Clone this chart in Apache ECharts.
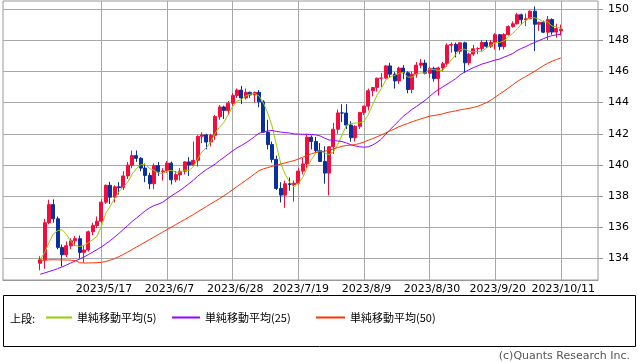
<!DOCTYPE html>
<html><head><meta charset="utf-8">
<script src="https://cdn.jsdelivr.net/npm/echarts@6/dist/echarts.min.js"></script>
<style>html,body{margin:0;padding:0;background:#fff}#c{width:638px;height:362px}</style>
</head><body><div id="c"></div>
<script>
const dates = ['2023/4/27','2023/4/28',
'2023/5/1','2023/5/2','2023/5/3','2023/5/4','2023/5/5','2023/5/8','2023/5/9','2023/5/10','2023/5/11','2023/5/12','2023/5/15','2023/5/16','2023/5/17','2023/5/18','2023/5/19','2023/5/22','2023/5/23','2023/5/24','2023/5/25','2023/5/26','2023/5/29','2023/5/30','2023/5/31',
'2023/6/1','2023/6/2','2023/6/5','2023/6/6','2023/6/7','2023/6/8','2023/6/9','2023/6/12','2023/6/13','2023/6/14','2023/6/15','2023/6/16','2023/6/19','2023/6/20','2023/6/21','2023/6/22','2023/6/23','2023/6/26','2023/6/27','2023/6/28','2023/6/29','2023/6/30',
'2023/7/3','2023/7/4','2023/7/5','2023/7/6','2023/7/7','2023/7/10','2023/7/11','2023/7/12','2023/7/13','2023/7/14','2023/7/17','2023/7/18','2023/7/19','2023/7/20','2023/7/21','2023/7/24','2023/7/25','2023/7/26','2023/7/27','2023/7/28','2023/7/31',
'2023/8/1','2023/8/2','2023/8/3','2023/8/4','2023/8/7','2023/8/8','2023/8/9','2023/8/10','2023/8/11','2023/8/14','2023/8/15','2023/8/16','2023/8/17','2023/8/18','2023/8/21','2023/8/22','2023/8/23','2023/8/24','2023/8/25','2023/8/28','2023/8/29','2023/8/30','2023/8/31',
'2023/9/1','2023/9/4','2023/9/5','2023/9/6','2023/9/7','2023/9/8','2023/9/11','2023/9/12','2023/9/13','2023/9/14','2023/9/15','2023/9/18','2023/9/19','2023/9/20','2023/9/21','2023/9/22','2023/9/25','2023/9/26','2023/9/27','2023/9/28','2023/9/29',
'2023/10/2','2023/10/3','2023/10/4','2023/10/5','2023/10/6','2023/10/9','2023/10/10','2023/10/11'];

const tickLabels = ['2023/5/17','2023/6/7','2023/6/28','2023/7/19','2023/8/9','2023/8/30','2023/9/20','2023/10/11'];
const yTicks = [134,136,138,140,142,144,146,148,150];

const opens = [133.70,133.93,136.30,137.46,136.55,134.72,134.25,134.82,135.14,135.28,
134.40,134.55,135.72,136.12,136.40,137.62,138.70,137.94,138.60,138.55,
139.30,139.99,140.60,140.43,139.80,139.33,138.80,139.96,139.57,139.62,
140.12,139.05,139.38,139.60,140.20,140.00,140.30,141.84,141.93,141.47,
141.90,143.10,143.72,143.50,143.96,144.45,144.80,144.30,144.66,144.49,
144.66,144.05,142.10,141.31,140.36,138.50,138.07,138.80,138.75,138.83,
139.61,140.07,141.78,141.50,140.92,140.23,139.48,141.17,142.29,143.34,
143.33,142.56,141.75,142.48,143.37,143.77,144.76,144.96,145.56,145.57,
146.35,145.82,145.39,146.21,145.91,144.84,145.82,146.40,146.53,145.88,
146.19,145.54,146.22,146.49,147.68,147.73,147.29,147.83,146.55,147.11,
147.45,147.46,147.85,147.61,147.86,148.35,147.59,148.36,148.87,149.05,
149.63,149.31,149.37,149.86,149.02,149.14,148.51,149.32,148.52,148.60];

const closes = [133.93,136.30,137.46,136.55,134.72,134.25,134.82,135.14,135.28,134.40,
134.55,135.72,136.12,136.40,137.62,138.70,137.94,138.60,138.55,139.30,
139.99,140.60,140.43,139.80,139.33,138.80,139.96,139.57,139.62,140.12,
139.05,139.38,139.60,140.20,140.00,140.30,141.84,141.93,141.47,141.90,
143.10,143.72,143.50,143.96,144.45,144.80,144.30,144.66,144.49,144.66,
144.05,142.10,141.31,140.36,138.50,138.07,138.80,138.75,138.83,139.61,
140.07,141.78,141.50,140.92,140.23,139.48,141.17,142.29,143.34,143.33,
142.56,141.75,142.48,143.37,143.77,144.76,144.96,145.56,145.57,146.35,
145.82,145.39,146.21,145.91,144.84,145.82,146.40,146.53,145.88,146.19,
145.54,146.22,146.49,147.68,147.73,147.29,147.83,146.55,147.11,147.45,
147.46,147.85,147.61,147.86,148.35,147.59,148.36,148.87,149.05,149.63,
149.31,149.37,149.86,149.02,149.14,148.51,149.32,148.52,148.74,148.70];

const highs = [134.15,136.55,137.77,137.80,136.70,134.90,135.10,135.30,135.45,135.48,
134.85,135.80,136.30,136.70,137.80,138.75,138.92,138.70,138.90,139.60,
140.20,140.92,140.93,140.50,140.10,139.50,140.10,140.20,139.80,140.25,
140.22,139.60,139.80,140.25,140.50,141.50,141.90,142.10,142.00,142.00,
143.20,143.85,143.80,144.10,144.60,144.90,145.07,144.90,144.70,144.70,
144.80,144.15,142.90,141.50,140.60,138.90,139.00,139.20,139.00,139.80,
140.45,142.00,141.90,141.80,141.40,141.20,141.20,142.70,143.55,143.90,
143.90,142.80,142.55,143.40,143.80,144.90,145.00,145.60,145.90,146.40,
146.55,145.95,146.30,146.40,146.00,146.00,146.60,146.80,146.75,146.30,
146.30,146.30,146.60,147.80,147.85,147.85,147.85,147.90,147.20,147.70,
147.55,148.00,148.00,148.00,148.45,148.40,148.45,148.95,149.20,149.75,
149.70,149.70,149.90,150.16,149.20,149.25,149.55,149.40,149.05,149.00];

const lows = [133.25,133.35,136.20,136.30,134.60,133.50,134.10,134.60,134.80,134.00,
133.75,134.45,135.50,135.95,136.30,137.50,137.50,137.60,138.10,138.40,
139.10,139.80,140.20,139.60,138.90,138.45,138.45,139.30,139.00,139.50,
138.75,138.90,139.00,139.40,139.30,139.90,139.90,141.40,141.00,141.20,
141.60,142.90,142.95,143.20,143.80,144.30,143.90,144.20,144.30,144.00,
143.70,142.07,141.00,140.15,138.40,137.60,137.25,138.35,137.65,138.75,
139.40,139.80,141.00,140.80,140.30,138.80,138.05,140.70,142.00,142.75,
142.30,141.50,141.50,142.30,143.20,143.50,144.40,144.70,145.00,145.50,
145.60,144.90,145.20,145.50,144.60,144.60,145.60,146.20,145.80,145.60,
145.35,144.45,146.00,146.30,147.20,146.90,147.10,145.90,146.40,147.00,
147.10,147.30,147.50,147.50,147.40,147.35,147.40,148.30,148.80,149.00,
149.00,148.90,149.35,147.30,148.60,148.45,148.00,148.35,148.15,148.30];

const ma5 = [133.95,134.38,135.02,135.58,135.79,135.86,135.56,135.10,134.84,134.78,
134.84,135.02,135.21,135.44,136.08,136.91,137.36,137.85,138.28,138.62,
138.88,139.41,139.77,140.02,140.03,139.79,139.66,139.49,139.46,139.61,
139.66,139.54,139.55,139.67,139.64,139.90,140.39,140.85,141.11,141.49,
142.05,142.42,142.74,143.24,143.75,144.09,144.20,144.43,144.54,144.58,
144.43,143.99,143.32,142.50,141.26,140.07,139.41,138.90,138.59,138.81,
139.21,139.81,140.36,140.78,140.90,140.78,140.66,140.82,141.30,141.92,
142.54,142.65,142.69,142.70,142.79,143.23,143.87,144.48,144.92,145.44,
145.65,145.74,145.87,145.94,145.63,145.63,145.84,145.90,145.89,146.16,
146.11,146.07,146.06,146.42,146.73,147.08,147.40,147.42,147.30,147.25,
147.28,147.28,147.50,147.65,147.83,147.85,147.95,148.21,148.44,148.70,
149.04,149.25,149.44,149.44,149.34,149.18,149.17,148.90,148.85,148.76];

const ma25 = [133.00,133.08,133.17,133.26,133.36,133.47,133.59,133.72,133.85,133.97,
134.10,134.26,134.42,134.58,134.75,134.95,135.15,135.38,135.62,135.87,
136.12,136.38,136.60,136.83,137.06,137.25,137.40,137.49,137.61,137.82,
138.02,138.20,138.38,138.58,138.80,139.03,139.28,139.51,139.71,139.88,
140.06,140.29,140.49,140.70,140.91,141.10,141.25,141.42,141.61,141.82,
142.03,142.11,142.18,142.21,142.15,142.11,142.08,142.05,141.99,141.98,
141.97,141.97,141.95,141.93,141.86,141.72,141.61,141.57,141.54,141.50,
141.41,141.30,141.22,141.17,141.14,141.17,141.28,141.45,141.66,141.97,
142.28,142.55,142.84,143.13,143.34,143.57,143.75,143.95,144.15,144.39,
144.63,144.83,145.00,145.18,145.35,145.54,145.78,145.95,146.10,146.24,
146.35,146.47,146.55,146.64,146.72,146.79,146.91,147.02,147.14,147.33,
147.47,147.59,147.73,147.85,147.97,148.09,148.21,148.29,148.34,148.37];

const ma50 = [133.88,133.90,133.92,133.93,133.92,133.92,133.91,133.90,133.88,133.74,
133.72,133.72,133.73,133.74,133.76,133.82,133.90,134.00,134.13,134.27,
134.42,134.58,134.74,134.90,135.06,135.22,135.38,135.54,135.70,135.86,
136.02,136.18,136.34,136.50,136.66,136.82,137.00,137.17,137.34,137.51,
137.68,137.85,138.03,138.22,138.42,138.62,138.82,139.02,139.22,139.43,
139.64,139.75,139.83,139.91,139.98,140.06,140.14,140.21,140.28,140.38,
140.50,140.62,140.72,140.81,140.87,140.88,140.95,141.02,141.12,141.20,
141.25,141.27,141.31,141.38,141.47,141.59,141.69,141.81,141.93,142.06,
142.19,142.31,142.45,142.56,142.66,142.77,142.86,142.95,143.04,143.13,
143.17,143.22,143.28,143.36,143.42,143.47,143.54,143.58,143.63,143.69,
143.76,143.87,144.00,144.15,144.35,144.54,144.73,144.93,145.13,145.34,
145.52,145.67,145.84,146.00,146.18,146.36,146.52,146.65,146.76,146.86];

const seriesNames = ['単純移動平均(5)','単純移動平均(25)','単純移動平均(50)'];
const lineColors = ['#99cc00','#9900ff','#ff3300'];

const PAD = 8;
const cats = [];
for (let i = 0; i < PAD; i++) cats.push('padL' + i);
dates.forEach(d => cats.push(d));
for (let i = 0; i < PAD; i++) cats.push('padR' + i);

const candleData = dates.map((d, i) => [i + PAD, opens[i], closes[i], lows[i], highs[i]]);
const lineData = arr => arr.map((v, i) => [i + PAD, v]);
const showTick = (idx, val) => tickLabels.indexOf(val) >= 0;

const chart = echarts.init(document.getElementById('c'), null, {renderer: 'canvas'});
chart.setOption({
  animation: false,
  backgroundColor: '#fff',
  grid: {left: 3, top: 1, right: 40, bottom: 82, show: true, borderColor: '#999', borderWidth: 1, containLabel: false},
  xAxis: {
    type: 'category', data: cats, boundaryGap: true,
    axisLine: {show: true, lineStyle: {color: '#999'}},
    axisTick: {show: false},
    axisLabel: {interval: showTick, fontSize: 11, color: '#000', fontFamily: 'DejaVu Sans', margin: 4, padding: [0, 0, 0, 5]},
    splitLine: {show: true, interval: showTick, alignWithLabel: true, lineStyle: {color: '#a8a8a8', width: 1}}
  },
  yAxis: {
    type: 'value', position: 'right', min: 132.63, max: 150.51,
    axisLine: {show: false},
    axisTick: {show: true, length: 5, lineStyle: {color: '#999'}, customValues: yTicks},
    axisLabel: {fontSize: 11, color: '#000', fontFamily: 'DejaVu Sans', margin: 10, customValues: yTicks},
    splitLine: {show: true, lineStyle: {color: '#a8a8a8', width: 1}}
  },
  legend: seriesNames.map((n, k) => ({
    data: [n], left: [46, 172, 316][k], top: 312, padding: 0,
    itemWidth: [26, 28, 29][k], itemHeight: 2, icon: 'rect', selectedMode: false,
    textStyle: {fontSize: 11, color: '#000', fontFamily: 'Noto Sans CJK JP'}
  })),
  graphic: [
    {type: 'rect', shape: {x: 3.5, y: 295.5, width: 632, height: 51}, style: {fill: 'none', stroke: '#000', lineWidth: 1}, z: 0},
    {type: 'text', x: 10, y: 319, style: {text: '上段:', fontSize: 11, fill: '#000', fontFamily: 'Noto Sans CJK JP', textVerticalAlign: 'middle'}},
    {type: 'text', x: 630, y: 356, style: {text: '(c)Quants Research Inc.', fontSize: 11, fill: '#555', fontFamily: 'DejaVu Sans', textAlign: 'right', textVerticalAlign: 'middle'}}
  ],
  series: [
    {type: 'candlestick', name: 'price', data: candleData, encode: {x: 0, y: [1, 2, 3, 4]}, barWidth: '80%',
      itemStyle: {color: '#f70a3c', color0: '#0a309e', borderColor: '#f70a3c', borderColor0: '#0a309e', borderWidth: 1}, z: 2},
    {type: 'line', name: seriesNames[0], data: lineData(ma5), symbol: 'none', lineStyle: {color: lineColors[0], width: 1}, itemStyle: {color: lineColors[0]}, z: 3},
    {type: 'line', name: seriesNames[1], data: lineData(ma25), symbol: 'none', lineStyle: {color: lineColors[1], width: 1}, itemStyle: {color: lineColors[1]}, z: 3},
    {type: 'line', name: seriesNames[2], data: lineData(ma50), symbol: 'none', lineStyle: {color: lineColors[2], width: 1}, itemStyle: {color: lineColors[2]}, z: 3}
  ]
});
</script></body></html>
